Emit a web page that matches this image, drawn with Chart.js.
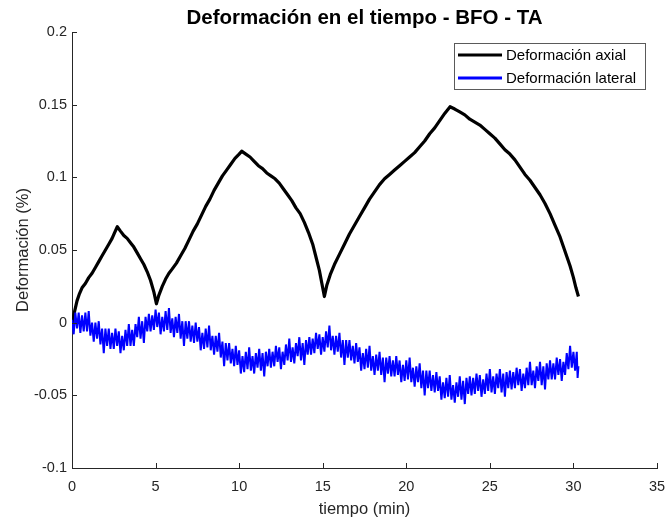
<!DOCTYPE html>
<html>
<head>
<meta charset="utf-8">
<script src="https://cdn.jsdelivr.net/npm/chart.js@4.4.1/dist/chart.umd.min.js"></script>
<style>
  html, body { margin: 0; padding: 0; background: #ffffff; }
  #wrap { width: 666px; height: 520px; position: relative; }
</style>
</head>
<body>
<div id="wrap"><canvas id="c" width="666" height="520"></canvas></div>
<script>
// ---- Data ----
const tituloGrafico = "Deformación en el tiempo - BFO - TA";
const tituloX = "tiempo (min)";
const tituloY = "Deformación (%)";
const nombresSeries = ["Deformación axial", "Deformación lateral"];

const xTicks = [0, 5, 10, 15, 20, 25, 30, 35];
const yTicks = [-0.1, -0.05, 0, 0.05, 0.1, 0.15, 0.2];

const tiempoAxial = [0,0.1,0.2,0.3,0.45,0.6,0.8,1.0,1.2,1.4,1.6,1.8,2.0,2.2,2.4,2.55,2.71,2.9,3.1,3.3,3.5,3.7,3.9,4.1,4.3,4.5,4.7,4.9,5.05,5.2,5.4,5.6,5.8,6.0,6.25,6.5,6.75,7.0,7.25,7.5,7.75,8.0,8.25,8.5,8.75,9.0,9.25,9.5,9.75,10.0,10.15,10.4,10.65,10.9,11.15,11.4,11.65,11.9,12.15,12.4,12.65,12.9,13.15,13.4,13.65,13.9,14.15,14.4,14.6,14.8,14.95,15.1,15.25,15.45,15.7,16.0,16.3,16.6,16.9,17.2,17.5,17.8,18.1,18.4,18.7,19.0,19.3,19.6,19.9,20.2,20.5,20.8,21.1,21.4,21.7,22.0,22.3,22.62,22.9,23.2,23.5,23.8,24.1,24.4,24.7,25.0,25.3,25.6,25.9,26.2,26.5,26.8,27.1,27.4,27.7,28.0,28.3,28.6,28.9,29.2,29.5,29.8,30.0,30.15,30.3];
const deformacionAxial = [-0.002,0.005,0.010,0.015,0.020,0.024,0.027,0.031,0.034,0.038,0.042,0.046,0.050,0.054,0.058,0.062,0.066,0.063,0.060,0.058,0.055,0.052,0.048,0.044,0.040,0.035,0.029,0.021,0.013,0.019,0.025,0.030,0.034,0.037,0.041,0.046,0.051,0.057,0.063,0.068,0.074,0.080,0.085,0.091,0.096,0.101,0.105,0.109,0.113,0.116,0.118,0.116,0.114,0.111,0.108,0.106,0.103,0.101,0.099,0.096,0.092,0.088,0.084,0.079,0.075,0.069,0.062,0.054,0.045,0.036,0.027,0.018,0.026,0.033,0.040,0.047,0.054,0.061,0.067,0.073,0.079,0.085,0.090,0.095,0.099,0.102,0.105,0.108,0.111,0.114,0.117,0.121,0.125,0.130,0.134,0.139,0.144,0.1486,0.147,0.145,0.143,0.140,0.138,0.136,0.133,0.130,0.127,0.123,0.119,0.116,0.112,0.107,0.102,0.098,0.093,0.088,0.082,0.075,0.067,0.059,0.049,0.039,0.031,0.024,0.018];

const tiempoLateral = [
  0,0.1,0.2,0.3,0.4,0.5,0.6,0.7,0.8,0.9,
  1,1.1,1.2,1.3,1.4,1.5,1.6,1.7,1.8,1.9,
  2,2.1,2.2,2.3,2.4,2.5,2.6,2.7,2.8,2.9,
  3,3.1,3.2,3.3,3.4,3.5,3.6,3.7,3.8,3.9,
  4,4.1,4.2,4.3,4.4,4.5,4.6,4.7,4.8,4.9,
  5,5.1,5.2,5.3,5.4,5.5,5.6,5.7,5.8,5.9,
  6,6.1,6.2,6.3,6.4,6.5,6.6,6.7,6.8,6.9,
  7,7.1,7.2,7.3,7.4,7.5,7.6,7.7,7.8,7.9,
  8,8.1,8.2,8.3,8.4,8.5,8.6,8.7,8.8,8.9,
  9,9.1,9.2,9.3,9.4,9.5,9.6,9.7,9.8,9.9,
  10,10.1,10.2,10.3,10.4,10.5,10.6,10.7,10.8,10.9,
  11,11.1,11.2,11.3,11.4,11.5,11.6,11.7,11.8,11.9,
  12,12.1,12.2,12.3,12.4,12.5,12.6,12.7,12.8,12.9,
  13,13.1,13.2,13.3,13.4,13.5,13.6,13.7,13.8,13.9,
  14,14.1,14.2,14.3,14.4,14.5,14.6,14.7,14.8,14.9,
  15,15.1,15.2,15.3,15.4,15.5,15.6,15.7,15.8,15.9,
  16,16.1,16.2,16.3,16.4,16.5,16.6,16.7,16.8,16.9,
  17,17.1,17.2,17.3,17.4,17.5,17.6,17.7,17.8,17.9,
  18,18.1,18.2,18.3,18.4,18.5,18.6,18.7,18.8,18.9,
  19,19.1,19.2,19.3,19.4,19.5,19.6,19.7,19.8,19.9,
  20,20.1,20.2,20.3,20.4,20.5,20.6,20.7,20.8,20.9,
  21,21.1,21.2,21.3,21.4,21.5,21.6,21.7,21.8,21.9,
  22,22.1,22.2,22.3,22.4,22.5,22.6,22.7,22.8,22.9,
  23,23.1,23.2,23.3,23.4,23.5,23.6,23.7,23.8,23.9,
  24,24.1,24.2,24.3,24.4,24.5,24.6,24.7,24.8,24.9,
  25,25.1,25.2,25.3,25.4,25.5,25.6,25.7,25.8,25.9,
  26,26.1,26.2,26.3,26.4,26.5,26.6,26.7,26.8,26.9,
  27,27.1,27.2,27.3,27.4,27.5,27.6,27.7,27.8,27.9,
  28,28.1,28.2,28.3,28.4,28.5,28.6,28.7,28.8,28.9,
  29,29.1,29.2,29.3,29.4,29.5,29.6,29.7,29.8,29.9,
  30,30.1,30.2,30.25,30.3
];
const deformacionLateral = [
  0.002,-0.008,0.007,-0.004,0.007,-0.007,0.005,-0.006,0.007,-0.006,
  0.008,-0.009,0.000,-0.013,0.000,-0.011,0.001,-0.015,-0.004,-0.021,
  -0.004,-0.016,-0.004,-0.018,-0.007,-0.018,-0.004,-0.016,-0.006,-0.021,
  -0.009,-0.019,-0.005,-0.016,-0.001,-0.016,-0.005,-0.016,-0.001,-0.010,
  0.004,-0.011,0.001,-0.014,0.004,-0.006,0.006,-0.006,0.005,-0.005,
  0.009,-0.003,0.007,-0.008,0.004,-0.006,0.008,-0.005,0.010,-0.007,
  0.003,-0.010,0.004,-0.007,0.006,-0.011,0.001,-0.016,0.001,-0.011,
  0.001,-0.013,-0.002,-0.014,0.000,-0.013,-0.003,-0.019,-0.007,-0.018,
  -0.004,-0.017,-0.002,-0.019,-0.009,-0.022,-0.009,-0.020,-0.007,-0.024,
  -0.013,-0.030,-0.014,-0.026,-0.014,-0.028,-0.018,-0.030,-0.016,-0.029,
  -0.019,-0.035,-0.023,-0.034,-0.020,-0.032,-0.017,-0.033,-0.023,-0.035,
  -0.021,-0.031,-0.018,-0.033,-0.021,-0.037,-0.020,-0.030,-0.018,-0.031,
  -0.020,-0.030,-0.016,-0.027,-0.017,-0.032,-0.020,-0.029,-0.015,-0.026,
  -0.011,-0.027,-0.017,-0.028,-0.014,-0.023,-0.010,-0.026,-0.014,-0.029,
  -0.012,-0.022,-0.010,-0.022,-0.011,-0.021,-0.007,-0.018,-0.008,-0.022,
  -0.010,-0.020,-0.006,-0.017,-0.002,-0.019,-0.009,-0.022,-0.009,-0.020,
  -0.007,-0.024,-0.012,-0.029,-0.012,-0.024,-0.012,-0.026,-0.016,-0.028,
  -0.014,-0.027,-0.017,-0.033,-0.021,-0.032,-0.018,-0.031,-0.016,-0.033,
  -0.023,-0.036,-0.022,-0.033,-0.020,-0.036,-0.024,-0.041,-0.024,-0.035,
  -0.023,-0.037,-0.026,-0.037,-0.023,-0.036,-0.026,-0.041,-0.029,-0.040,
  -0.026,-0.039,-0.024,-0.041,-0.031,-0.044,-0.030,-0.041,-0.028,-0.045,
  -0.033,-0.050,-0.033,-0.045,-0.033,-0.047,-0.036,-0.048,-0.034,-0.047,
  -0.037,-0.053,-0.041,-0.052,-0.038,-0.051,-0.036,-0.053,-0.043,-0.055,
  -0.041,-0.051,-0.037,-0.053,-0.040,-0.056,-0.038,-0.049,-0.037,-0.050,
  -0.038,-0.049,-0.035,-0.047,-0.036,-0.051,-0.039,-0.049,-0.035,-0.047,
  -0.032,-0.048,-0.037,-0.049,-0.035,-0.045,-0.032,-0.048,-0.035,-0.051,
  -0.034,-0.045,-0.033,-0.046,-0.034,-0.045,-0.031,-0.043,-0.032,-0.047,
  -0.035,-0.045,-0.031,-0.043,-0.027,-0.043,-0.033,-0.045,-0.030,-0.040,
  -0.027,-0.043,-0.030,-0.046,-0.028,-0.039,-0.026,-0.039,-0.028,-0.039,
  -0.024,-0.036,-0.025,-0.040,-0.027,-0.036,-0.021,-0.032,-0.016,-0.031,
  -0.020,-0.033,-0.020,-0.038,-0.030
];

// ---- Chart ----
const FONT = "'Liberation Sans', Arial, Helvetica, sans-serif";
const INK = '#262626';

const puntosAxial = tiempoAxial.map((t, i) => ({ x: t, y: deformacionAxial[i] }));
const puntosLateral = tiempoLateral.map((t, i) => ({ x: t, y: deformacionLateral[i] }));

const decor = {
  id: 'decor',
  afterDraw(chart) {
    const ctx = chart.ctx;
    const a = chart.chartArea;
    const xs = chart.scales.x, ys = chart.scales.y;
    ctx.save();
    // inward tick marks
    ctx.strokeStyle = INK;
    ctx.lineWidth = 1;
    ctx.beginPath();
    xTicks.forEach(v => {
      const px = Math.round(xs.getPixelForValue(v)) + 0.5;
      ctx.moveTo(px, a.bottom); ctx.lineTo(px, a.bottom - 5);
    });
    yTicks.forEach(v => {
      const py = Math.round(ys.getPixelForValue(v)) + 0.5;
      ctx.moveTo(a.left, py); ctx.lineTo(a.left + 5, py);
    });
    ctx.stroke();

    // title
    ctx.fillStyle = '#000000';
    ctx.font = 'bold 20.5px ' + FONT;
    ctx.textAlign = 'center';
    ctx.textBaseline = 'alphabetic';
    ctx.fillText(tituloGrafico, (a.left + a.right) / 2, 24);

    // axis titles
    ctx.fillStyle = INK;
    ctx.font = '16.5px ' + FONT;
    ctx.fillText(tituloX, (a.left + a.right) / 2, 514);
    ctx.save();
    ctx.translate(28, (a.top + a.bottom) / 2);
    ctx.rotate(-Math.PI / 2);
    ctx.fillText(tituloY, 0, 0);
    ctx.restore();

    // legend box
    const bx = 454.5, by = 43.5, bw = 191, bh = 46;
    ctx.fillStyle = '#ffffff';
    ctx.fillRect(bx, by, bw, bh);
    ctx.strokeStyle = '#5a5a5a';
    ctx.lineWidth = 1;
    ctx.strokeRect(bx, by, bw, bh);
    ctx.font = '15px ' + FONT;
    ctx.textAlign = 'left';
    ctx.textBaseline = 'middle';
    chart.data.datasets.forEach((ds, i) => {
      const ly = 55 + i * 23;
      ctx.strokeStyle = ds.borderColor;
      ctx.lineWidth = 3;
      ctx.beginPath();
      ctx.moveTo(458, ly); ctx.lineTo(502, ly);
      ctx.stroke();
      ctx.fillStyle = '#000000';
      ctx.fillText(ds.label, 506, ly + 1);
    });
    ctx.restore();
  }
};

new Chart(document.getElementById('c'), {
  type: 'line',
  data: {
    datasets: [
      {
        label: nombresSeries[0],
        data: puntosAxial,
        borderColor: '#000000',
        borderWidth: 3.2,
        borderJoinStyle: 'round',
        pointRadius: 0,
        tension: 0,
        order: 1
      },
      {
        label: nombresSeries[1],
        data: puntosLateral,
        borderColor: '#0000ff',
        borderWidth: 2,
        borderJoinStyle: 'bevel',
        pointRadius: 0,
        tension: 0,
        order: 0
      }
    ]
  },
  options: {
    responsive: false,
    animation: false,
    events: [],
    layout: { padding: { top: 32, right: 9, left: 0, bottom: 0 } },
    plugins: { legend: { display: false }, tooltip: { enabled: false }, title: { display: false } },
    scales: {
      x: {
        type: 'linear',
        min: 0, max: 35,
        afterBuildTicks: s => { s.ticks = xTicks.map(v => ({ value: v })); },
        afterFit: s => { s.height = 52; s.paddingLeft = 0; s.paddingRight = 0; },
        grid: { display: true, drawOnChartArea: false, drawTicks: false, color: INK },
        border: { display: true, color: INK, width: 1 },
        ticks: {
          color: INK, padding: 10, maxRotation: 0,
          font: { family: FONT, size: 14.5 },
          callback: v => String(v)
        }
      },
      y: {
        type: 'linear',
        min: -0.1, max: 0.2,
        afterBuildTicks: s => { s.ticks = yTicks.map(v => ({ value: v })); },
        afterFit: s => { s.width = 72; s.paddingTop = 0; s.paddingBottom = 0; },
        grid: { display: true, drawOnChartArea: false, drawTicks: false, color: INK },
        border: { display: true, color: INK, width: 1 },
        ticks: {
          color: INK, padding: 5,
          font: { family: FONT, size: 14.5 },
          callback: v => String(Math.round(v * 100) / 100)
        }
      }
    }
  },
  plugins: [decor]
});
</script>
</body>
</html>
